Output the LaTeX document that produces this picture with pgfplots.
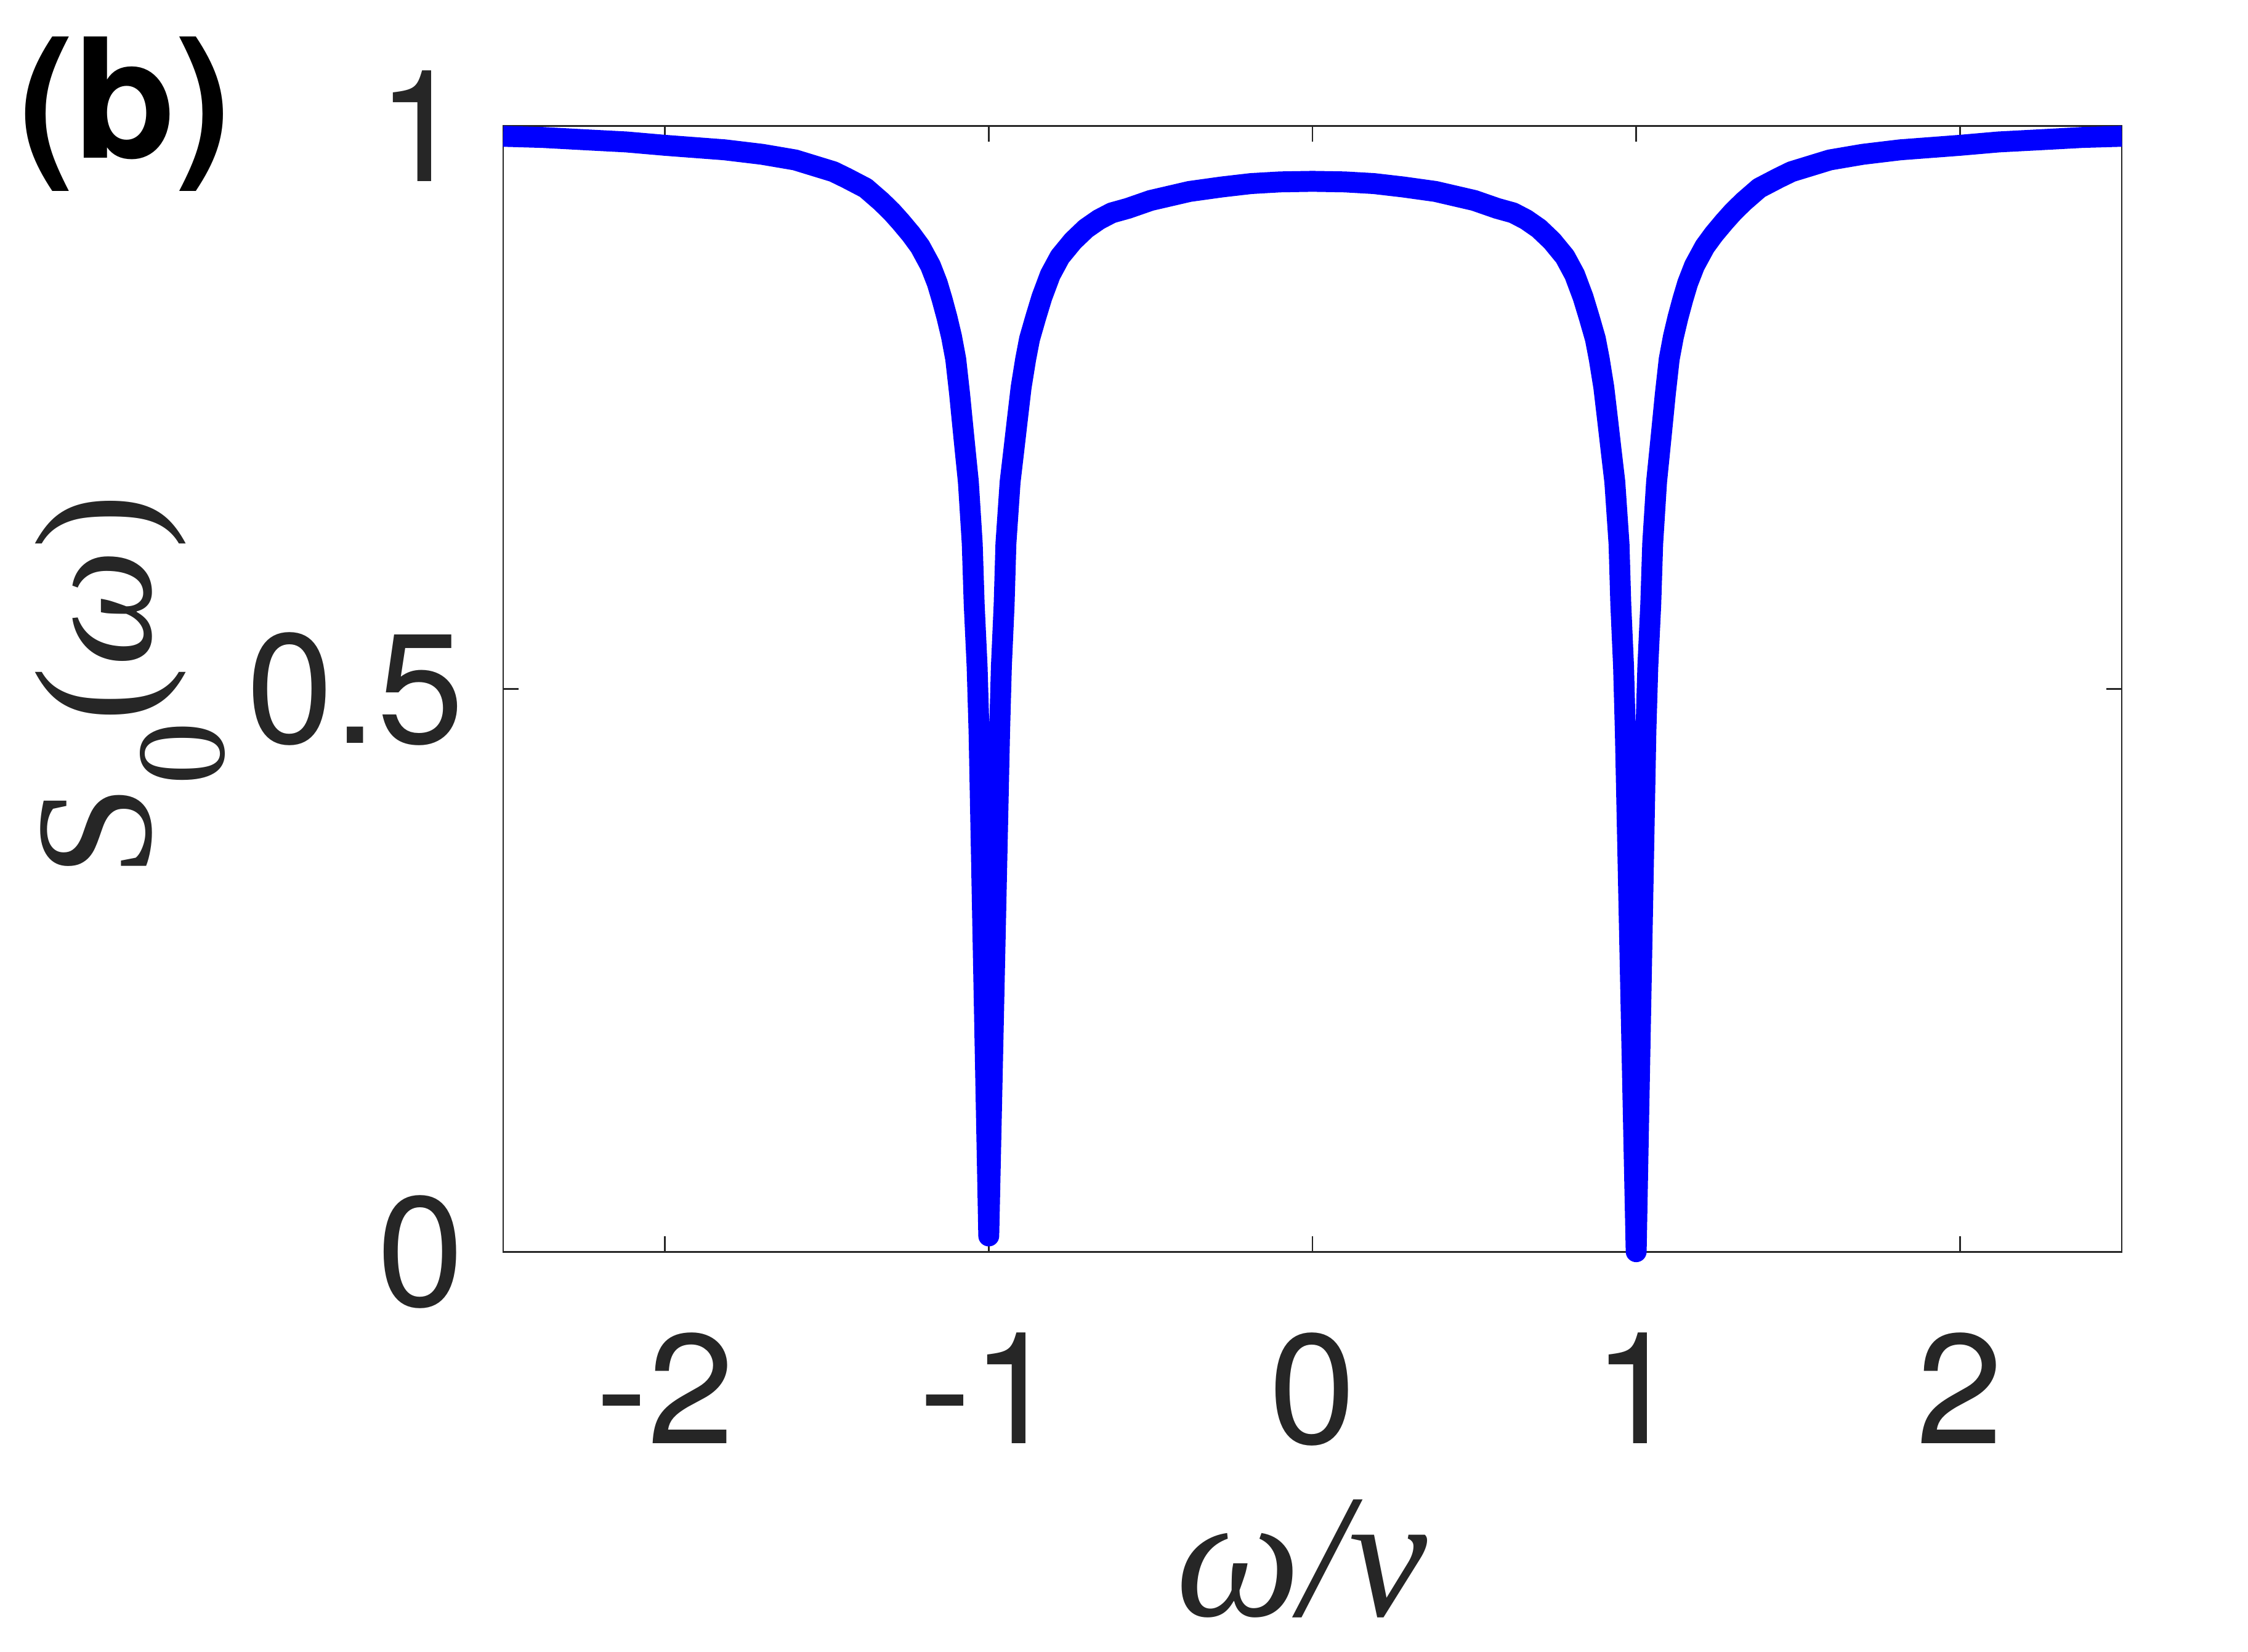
\documentclass[border=0pt]{standalone}
\usepackage{fontspec}
\setmainfont{Liberation Serif}
\newfontfamily\arialfont{TeX Gyre Heros}
\usepackage{pgfplots}
\pgfplotsset{compat=1.18}
\definecolor{axisgray}{RGB}{38,38,38}
\definecolor{curveblue}{RGB}{0,0,255}

\begin{document}
\begin{tikzpicture}
\begin{axis}[
    scale only axis,
    width=112.9mm, height=78.5mm,
    xmin=-2.5, xmax=2.5, ymin=0, ymax=1,
    xtick={-2,-1,0,1,2},
    xticklabels={-2,-1,0,1,2},
    ytick={0,0.5,1},
    yticklabels={0,0.5,1},
    tick align=inside,
    major tick length=1.07mm,
    axis line style={draw=axisgray, line width=0.35pt},
    tick style={draw=axisgray, line width=0.35pt},
    ticklabel style={font=\arialfont\fontsize{31}{37}\selectfont, text=axisgray},
    xticklabel style={yshift=-4.4mm},
    yticklabel style={xshift=-1.5mm},
    clip=false,
    xlabel={\textit{ω/ν}},
    xlabel style={font=\fontsize{35}{40}\selectfont, text=axisgray,
        at={(axis description cs:0.4934,-0.3236)}, anchor=base},
    ylabel={S\raisebox{-14.5pt}{\fontsize{25}{25}\selectfont 0}(\textit{ω})},
    ylabel style={font=\fontsize{33}{38}\selectfont, text=axisgray,
        at={(axis description cs:-0.2179,0.503)}, anchor=base, rotate=0},
]
\addplot[curveblue, line width=4.15pt, line join=round, line cap=butt] coordinates {
(-2.500,0.991) (-2.380,0.990) (-2.252,0.988) (-2.120,0.986) (-2.000,0.983)
(-1.816,0.979) (-1.700,0.975) (-1.598,0.970) (-1.480,0.9596) (-1.440,0.954)
(-1.380,0.945) (-1.332,0.933) (-1.300,0.924) (-1.272,0.915) (-1.240,0.904)
(-1.212,0.893) (-1.180,0.876) (-1.159,0.8605) (-1.144,0.846) (-1.129,0.830)
(-1.115,0.813) (-1.102,0.793) (-1.090,0.762) (-1.082,0.7385) (-1.0725,0.711)
(-1.063,0.684) (-1.051,0.629) (-1.045,0.575) (-1.036,0.520) (-1.030,0.462)
(-1.000,0.014)
(-0.9665,0.462) (-0.961,0.520) (-0.9525,0.575) (-0.947,0.629) (-0.934,0.684)
(-0.923,0.711) (-0.912,0.7385) (-0.900,0.768) (-0.886,0.793) (-0.874,0.811)
(-0.855,0.830) (-0.836,0.848) (-0.810,0.868) (-0.780,0.884) (-0.740,0.898)
(-0.700,0.909) (-0.660,0.917) (-0.620,0.923) (-0.570,0.927) (-0.500,0.934)
(-0.470,0.936) (-0.380,0.942) (-0.280,0.946) (-0.190,0.949) (-0.100,0.9505)
(0.000,0.951)
(0.100,0.9505) (0.190,0.949) (0.280,0.946) (0.380,0.942) (0.470,0.936)
(0.500,0.934) (0.570,0.927) (0.620,0.923) (0.660,0.917) (0.700,0.909)
(0.740,0.898) (0.780,0.884) (0.810,0.868) (0.836,0.848) (0.855,0.830)
(0.874,0.811) (0.886,0.793) (0.900,0.768) (0.912,0.7385) (0.923,0.711)
(0.934,0.684) (0.947,0.629) (0.9525,0.575) (0.961,0.520) (0.9665,0.462)
(1.000,0.000)
(1.030,0.462) (1.036,0.520) (1.045,0.575) (1.051,0.629) (1.063,0.684)
(1.0725,0.711) (1.082,0.7385) (1.090,0.762) (1.102,0.793) (1.115,0.813)
(1.129,0.830) (1.144,0.846) (1.159,0.8605) (1.180,0.876) (1.212,0.893)
(1.240,0.904) (1.272,0.915) (1.300,0.924) (1.332,0.933) (1.380,0.945)
(1.440,0.954) (1.480,0.9596) (1.598,0.970) (1.700,0.975) (1.816,0.979)
(2.000,0.983) (2.120,0.986) (2.252,0.988) (2.380,0.990) (2.500,0.991)
};
\node[font=\arialfont\bfseries\fontsize{33}{40}\selectfont, anchor=base west, inner sep=0pt]
    at (axis description cs:-0.3000,0.972) {(b)};
\coordinate (bl) at (axis description cs:-0.3109,-0.3554);
\coordinate (tr) at (axis description cs:1.0780,1.1121);
\end{axis}
\pgfresetboundingbox
\path (bl) rectangle (tr);
\end{tikzpicture}
\end{document}
